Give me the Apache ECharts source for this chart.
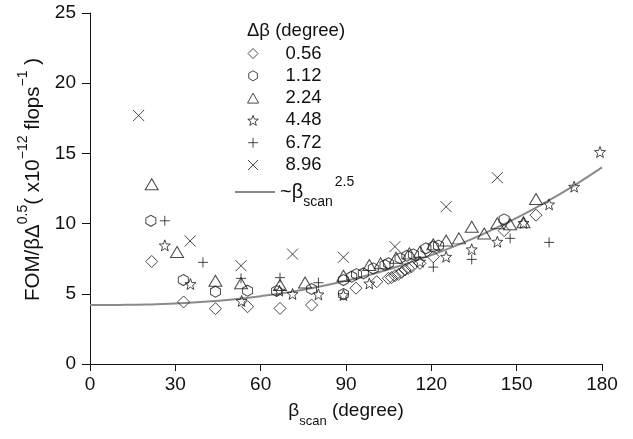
<!DOCTYPE html>
<html><head><meta charset="utf-8">
<script src="https://cdn.jsdelivr.net/npm/echarts@6/dist/echarts.min.js"></script>
<style>html,body{margin:0;padding:0;background:#fff}#c{width:633px;height:439px}</style>
</head><body><div id="c"></div>
<script>
// Δβ = 0.56 (diamond)
const d056 = [[21.7,7.3],[32.9,4.42],[44.1,3.94],[55.4,4.08],[66.8,3.96],[77.9,4.2],[93.5,5.4],[100.8,5.86],[104.9,6.1],[106.0,6.15],[107.2,6.29],[108.4,6.38],[109.6,6.53],[110.8,6.7],[111.9,6.81],[113.1,6.93],[116.0,7.17],[120.7,7.64],[145.6,9.5],[156.8,10.6]];
// Δβ = 1.12 (hexagon)
const d112 = [[21.4,10.2],[32.8,5.98],[44.1,5.15],[55.4,5.22],[65.6,5.2],[77.9,5.34],[89.1,4.98],[89.1,5.98],[92.0,6.22],[93.7,6.4],[96.1,6.45],[99.6,6.81],[103.7,7.05],[104.9,7.17],[109.0,7.53],[111.4,7.71],[113.7,7.81],[118.1,8.24],[120.7,8.36],[122.5,8.43],[145.6,10.3]];
// Δβ = 2.24 (triangle)
const d224 = [[21.7,12.8],[30.6,7.98],[44.1,5.93],[53.1,5.75],[66.8,5.63],[75.6,5.81],[89.1,6.29],[98.2,7.05],[102.2,7.17],[107.6,7.57],[112.3,7.88],[116.0,8.0],[120.7,8.52],[125.2,8.8],[129.7,8.95],[134.2,9.78],[138.6,9.3],[143.2,10.02],[147.7,9.95],[152.4,10.1],[156.8,11.75]];
// Δβ = 4.48 (star)
const d448 = [[26.3,8.45],[35.3,5.7],[53.3,4.49],[66.6,5.22],[71.2,4.99],[80.3,4.96],[89.1,4.91],[98.2,5.74],[116.0,7.29],[125.2,7.64],[134.2,8.17],[143.2,8.71],[152.4,10.05],[161.4,11.37],[170.2,12.63],[179.3,15.1]];
// Δβ = 6.72 (plus)
const d672 = [[26.3,10.2],[39.7,7.24],[53.1,6.1],[66.8,6.15],[80.3,5.79],[120.7,6.9],[134.2,7.45],[147.7,8.95],[161.4,8.66]];
// Δβ = 8.96 (cross)
const d896 = [[17.1,17.7],[35.2,8.76],[53.1,7.0],[71.2,7.83],[89.1,7.6],[107.2,8.36],[125.2,11.2],[143.2,13.27]];
// fit curve ~ βscan^2.5
const fitX = [0,10,20,30,40,50,60,70,80,90,100,110,120,130,140,150,160,170,180];
const fitY = [4.20,4.21,4.24,4.31,4.43,4.60,4.83,5.12,5.49,5.93,6.45,7.06,7.76,8.54,9.43,10.41,11.50,12.69,14.00];
const seriesNames = ['0.56','1.12','2.24','4.48','6.72','8.96'];
const xTicks = {min:0, max:180, interval:30};
const yTicks = {min:0, max:25, interval:5};

const FF = 'Liberation Sans, Arial, sans-serif';
const SYM = {
  diamond: 'path://M0,-100L100,0L0,100L-100,0Z',
  hexagon: 'path://M0,-100L86.6,-50L86.6,50L0,100L-86.6,50L-86.6,-50Z',
  triangle: 'path://M0,-100L100,80L-100,80Z',
  star: 'path://M0,-100L24.7,-34L95.1,-30.9L39.9,13L58.8,80.9L0,42L-58.8,80.9L-39.9,13L-95.1,-30.9L-24.7,-34Z',
  plus: 'path://M0,-100L0,100M-100,0L100,0',
  cross: 'path://M-100,-100L100,100M-100,100L100,-100'
};
const symList = [['diamond',[12,12]],['hexagon',[10,11]],['triangle',[13,11]],['star',[11,11]],['plus',[10,10]],['cross',[11,11]]];
const dataList = [d056,d112,d224,d448,d672,d896];

const scatterSeries = dataList.map((d,i)=>({
  type:'scatter', name: seriesNames[i], data: d,
  symbol: SYM[symList[i][0]], symbolSize: symList[i][1],
  itemStyle:{color:'rgba(255,255,255,0)', borderColor:'#1a1a1a', borderWidth:1},
  emphasis:{disabled:true}, z:3
}));

const fitName = 'fit';
const lineSeries = {
  type:'line', name: fitName, data: fitX.map((x,i)=>[x,fitY[i]]),
  smooth:true, showSymbol:false, symbol:'none',
  lineStyle:{color:'#8a8a8a', width:2}, itemStyle:{color:'#8a8a8a'}, z:2
};

const chart = echarts.init(document.getElementById('c'), null, {renderer:'canvas'});
chart.setOption({
  animation:false,
  backgroundColor:'#fff',
  grid:{left:90, right:31, top:13, bottom:75, containLabel:false, outerBoundsMode:'none'},
  graphic:[{type:'text', left:247, top:21, style:{text:'Δβ (degree)', font:'18.5px '+FF, fill:'#111'}}],
  legend:[{
    data: seriesNames, orient:'vertical', left:247, top:44, padding:0,
    itemWidth:55, itemHeight:10, itemGap:3.3, selectedMode:false,
    itemStyle:{borderWidth:1, borderColor:'#1a1a1a', color:'rgba(255,255,255,0)'},
    textStyle:{fontSize:18.5, fontFamily:FF, color:'#111', lineHeight:18}
  },{
    data:[{name:fitName, icon:'rect'}], orient:'vertical', left:235, top:175, padding:0,
    itemWidth:40, itemHeight:2, selectedMode:false,
    itemStyle:{color:'#8a8a8a', borderWidth:0},
    formatter: ()=>'{n|~β}{s|scan}{p|2.5}',
    textStyle:{fontFamily:FF, color:'#111', rich:{
      n:{fontSize:20, fontFamily:FF, color:'#111', lineHeight:34},
      s:{fontSize:14, fontFamily:FF, color:'#111', lineHeight:16, verticalAlign:'bottom'},
      p:{fontSize:14, fontFamily:FF, color:'#111', lineHeight:8, verticalAlign:'top', padding:[0,0,0,2]}
    }}
  }],
  xAxis:{
    type:'value', min:xTicks.min, max:xTicks.max, interval:xTicks.interval,
    name:'{n|β}{s|scan}{n| (degree)}', nameLocation:'middle', nameGap:30,
    nameTextStyle:{rich:{
      n:{fontSize:19, fontFamily:FF, color:'#111', lineHeight:34},
      s:{fontSize:13, fontFamily:FF, color:'#111', lineHeight:16, verticalAlign:'bottom'}
    }},
    axisLine:{show:true, onZero:false, lineStyle:{color:'#111', width:1}},
    axisTick:{show:true, inside:false, length:7, lineStyle:{color:'#111'}},
    axisLabel:{fontSize:19, fontFamily:FF, color:'#111', margin:11},
    splitLine:{show:false}
  },
  yAxis:{
    type:'value', min:yTicks.min, max:yTicks.max, interval:yTicks.interval,
    name:'{n|FOM/βΔ}{p|0.5}{n|( x10}{p|−12}{n| flops}{p|−1}{n| )}',
    nameLocation:'middle', nameGap:33, nameRotate:90,
    nameTextStyle:{padding:[0,0,0,18], rich:{
      n:{fontSize:20.5, fontFamily:FF, color:'#111', lineHeight:34},
      p:{fontSize:14, fontFamily:FF, color:'#111', lineHeight:12, verticalAlign:'top'}
    }},
    axisLine:{show:true, onZero:false, lineStyle:{color:'#111', width:1}},
    axisTick:{show:true, inside:false, length:8, lineStyle:{color:'#111'}},
    axisLabel:{fontSize:19, fontFamily:FF, color:'#111', margin:14},
    splitLine:{show:false}
  },
  series:[lineSeries, ...scatterSeries]
});
</script></body></html>
